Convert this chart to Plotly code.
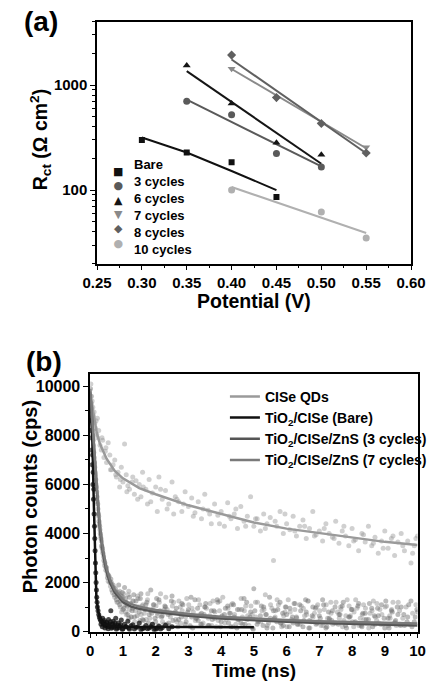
import plotly.graph_objects as go

# ---------------- Panel (a): Rct vs potential ----------------
pot_a = [0.30, 0.35, 0.40, 0.45]
pot_b = [0.35, 0.40, 0.45, 0.50]
pot_c = [0.40, 0.45, 0.50, 0.55]
pot_d = [0.40, 0.50, 0.55]

rct_bare = [299, 228, 184, 86]
rct_3 = [700, 520, 223, 166]
rct_6 = [1530, 667, 282, 217]
rct_7 = [1427, 741, 427, 255]
rct_8 = [1925, 760, 430, 225]
rct_10 = [100, 62, 35]

fit_bare_x = [0.30, 0.35, 0.40, 0.45]
fit_bare_y = [316, 228, 152, 100]
fit_3_x = [0.35, 0.50]
fit_3_y = [725, 168]
fit_6_x = [0.35, 0.50]
fit_6_y = [1356, 178]
fit_7_x = [0.40, 0.55]
fit_7_y = [1420, 250]
fit_8_x = [0.40, 0.55]
fit_8_y = [1750, 224]
fit_10_x = [0.40, 0.55]
fit_10_y = [107, 39]

legend_a_names = ["Bare", "3 cycles", "6 cycles", "7 cycles", "8 cycles", "10 cycles"]
legend_a_symbols = ["■", "●", "▲", "▼", "◆", "●"]

# ---------------- Panel (b): PL decay ----------------
qd_t = [0.02, 0.04, 0.06, 0.08, 0.1, 0.12, 0.14, 0.16, 0.18, 0.2, 0.23, 0.26, 0.3, 0.34, 0.38, 0.42, 0.46, 0.5,
        0.55, 0.6, 0.65, 0.7, 0.75, 0.8, 0.85, 0.9, 0.95, 1.0, 1.05, 1.1, 1.15, 1.2, 1.3, 1.35, 1.4, 1.5, 1.55,
        1.6, 1.7, 1.75, 1.8, 1.9, 2.0, 2.05, 2.1, 2.2, 2.3, 2.4, 2.5, 2.55, 2.6, 2.7, 2.8, 2.9, 3.0, 3.1, 3.2,
        3.3, 3.4, 3.5, 3.6, 3.7, 3.8, 3.9, 4.0, 4.1, 4.2, 4.3, 4.4, 4.5, 4.6, 4.7, 4.8, 4.9, 5.0, 5.1, 5.2, 5.3,
        5.4, 5.5, 5.6, 5.7, 5.8, 5.9, 6.0, 6.1, 6.2, 6.3, 6.4, 6.5, 6.6, 6.7, 6.8, 6.9, 7.0, 7.1, 7.2, 7.3, 7.4,
        7.5, 7.6, 7.7, 7.8, 7.9, 8.0, 8.1, 8.2, 8.3, 8.4, 8.5, 8.6, 8.7, 8.8, 8.9, 9.0, 9.1, 9.2, 9.3, 9.4, 9.5,
        9.6, 9.7, 9.8, 9.9, 10.0]
qd_y = [10100, 9600, 9400, 9150, 8800, 8950, 8500, 8300, 8600, 8050, 7900, 8200, 7600, 7400, 7800, 7100, 7350, 6900,
        7700, 7200, 6600, 6800, 7000, 6300, 6500, 5900, 6700, 6100, 7650, 6400, 5950, 5800, 6300, 5600, 6150, 6000, 5500,
        6500, 5800, 5200, 6200, 5650, 5900, 4900, 6300, 5400, 5750, 5200, 6100, 4800, 5500, 5300, 4900, 5700, 5100, 5450, 4850,
        5300, 4600, 5600, 4950, 4400, 5200, 4750, 4900, 4300, 5250, 4600, 4800, 4200, 5100, 4500, 4700, 5500, 4300, 4600, 4100, 4800,
        4400, 4650, 2900, 4300, 4900, 4000, 4400, 4150, 4700, 3900, 4300, 4550, 3800, 4200, 4900, 3950, 4100, 3700, 4400, 4000, 3850,
        4500, 3600, 4100, 3900, 3500, 4200, 3750, 3300, 4000, 3650, 4300, 3500, 3850, 3200, 3700, 4100, 3400, 3800, 3100, 3650, 4000,
        3300, 3700, 2800, 3500, 3900]
qd_t_more = [0.22, 0.36, 0.48, 0.62, 0.78, 0.92, 1.12, 1.28, 1.45, 1.62,
             1.85, 2.15, 2.35, 2.65, 2.85, 3.15, 3.45, 3.65, 3.95, 4.25,
             4.45, 4.75, 5.05, 5.35, 5.65, 5.95, 6.25, 6.55, 6.85, 7.15,
             7.45, 7.75, 8.05, 8.35, 8.65, 8.95, 9.25, 9.55, 9.85, 9.95]
qd_y_more = [8700, 7900, 7500, 6600, 6400, 6200, 5700, 6100, 5400, 5900,
             5300, 5800, 5000, 5400, 5200, 4700, 5000, 4800, 4400, 4700,
             5000, 4300, 4600, 4200, 4500, 4800, 4100, 4300, 3900, 4200,
             3800, 4300, 3700, 3950, 3600, 3400, 3900, 3500, 3200, 3800]

c3_t = [0.01, 0.03, 0.05, 0.07, 0.09, 0.11, 0.13, 0.15, 0.17, 0.19, 0.21, 0.23, 0.25, 0.27, 0.29, 0.31, 0.33, 0.35,
        0.37, 0.39, 0.42, 0.45, 0.48, 0.5, 0.53, 0.56, 0.6, 0.63, 0.66, 0.7, 0.73, 0.77, 0.8, 0.85, 0.9, 0.95, 1.0,
        1.05, 1.1, 1.15, 1.2, 1.3, 1.35, 1.4, 1.5, 1.55, 1.6, 1.7, 1.8, 1.85, 1.9, 2.0, 2.1, 2.2, 2.3, 2.4, 2.5,
        2.6, 2.7, 2.8, 2.9, 3.0, 3.1, 3.2, 3.3, 3.4, 3.5, 3.6, 3.7, 3.8, 3.9, 4.0, 4.1, 4.2, 4.3, 4.4, 4.5, 4.6,
        4.7, 4.8, 4.9, 5.0, 5.1, 5.2, 5.3, 5.4, 5.5, 5.6, 5.7, 5.8, 5.9, 6.0, 6.1, 6.2, 6.3, 6.4, 6.5, 6.6, 6.7,
        6.8, 6.9, 7.0, 7.1, 7.2, 7.3, 7.4, 7.5, 7.6, 7.7, 7.8, 7.9, 8.0, 8.1, 8.2, 8.3, 8.4, 8.5, 8.6, 8.7, 8.8,
        8.9, 9.0, 9.1, 9.2, 9.3, 9.4, 9.5, 9.6, 9.7, 9.8, 9.9, 10.0]
c3_y = [9900, 9300, 8700, 8200, 7800, 7300, 6900, 6500, 6200, 5900, 5500, 5200, 4800, 4500, 4300, 4000, 3800, 3500,
        3400, 3200, 2900, 2800, 2500, 2600, 2200, 2300, 2000, 2150, 1700, 1900, 1500, 1750, 1300, 1600, 1100, 1450, 900,
        1800, 1200, 700, 1400, 950, 600, 1250, 800, 1550, 500, 1100, 700, 1700, 900, 400, 1300, 650, 1000, 350, 1450,
        800, 500, 1150, 300, 900, 600, 1300, 450, 750, 1000, 250, 850, 550, 1200, 400, 700, 1050, 200, 600, 900, 350,
        1350, 500, 800, 1750, 300, 650, 1000, 150, 550, 850, 400, 1200, 250, 700, 950, 350, 600, 1100, 200, 800, 450,
        1000, 300, 650, 1300, 150, 550, 850, 350, 700, 1050, 250, 600, 900, 400, 1150, 200, 750, 500, 950, 300, 650,
        1100, 150, 550, 850, 350, 700, 1000, 250, 600, 1250, 400, 800]
c3_t_more = [0.82, 0.87, 0.93, 0.98, 1.03, 1.08, 1.13, 1.18, 1.23, 1.28,
             1.33, 1.43, 1.48, 1.53, 1.63, 1.68, 1.73, 1.78, 1.88, 1.93,
             1.98, 2.03, 2.08, 2.13, 2.18, 2.28, 2.33, 2.38, 2.48, 2.53,
             2.63, 2.68, 2.78, 2.83, 2.93, 2.98, 3.08, 3.13, 3.23, 3.28,
             3.38, 3.48, 3.53, 3.63, 3.73, 3.78, 3.88, 3.98, 4.03, 4.13,
             4.23, 4.28, 4.38, 4.48, 4.53, 4.63, 4.73, 4.78, 4.88, 4.98,
             5.03, 5.13, 5.23, 5.28, 5.38, 5.48, 5.58, 5.63, 5.73, 5.83,
             5.88, 5.98, 6.08, 6.18, 6.23, 6.33, 6.43, 6.53, 6.58, 6.68,
             6.78, 6.88, 6.93, 7.03, 7.13, 7.23, 7.28, 7.38, 7.48, 7.58,
             7.63, 7.73, 7.83, 7.93, 7.98, 8.08, 8.18, 8.28, 8.33, 8.43,
             8.53, 8.63, 8.68, 8.78, 8.88, 8.98, 9.03, 9.13, 9.23, 9.33,
             9.38, 9.48, 9.58, 9.68, 9.73, 9.83, 9.93, 9.98]
c3_y_more = [1450, 1900, 1250, 1600, 950, 1350, 1050, 550, 1150, 850,
             1500, 650, 1000, 1350, 450, 900, 1200, 350, 750, 1100,
             550, 1350, 250, 850, 600, 1050, 300, 700, 1250, 450,
             950, 200, 600, 1100, 400, 800, 1400, 150, 550, 950,
             300, 700, 1150, 250, 500, 850, 1300, 200, 650, 950,
             350, 750, 1100, 150, 500, 900, 300, 1200, 600, 100,
             850, 400, 1050, 250, 700, 1400, 150, 550, 900, 350,
             750, 1000, 200, 600, 1150, 300, 850, 450, 1300, 150,
             650, 950, 350, 550, 1100, 200, 800, 450, 1000, 300,
             700, 1200, 150, 600, 900, 350, 1050, 250, 750, 500,
             1150, 200, 650, 950, 300, 550, 1250, 150, 800, 450,
             1000, 250, 700, 400, 1100, 200, 600, 900]

c7_t = [0.02, 0.04, 0.06, 0.08, 0.1, 0.12, 0.14, 0.16, 0.18, 0.2, 0.22, 0.24, 0.26, 0.28, 0.3, 0.32, 0.34, 0.36,
        0.38, 0.41, 0.44, 0.47, 0.52, 0.55, 0.58, 0.62, 0.65, 0.68, 0.72, 0.75, 0.78, 0.82, 0.88, 0.92, 0.97, 1.02,
        1.08, 1.12, 1.18, 1.25, 1.32, 1.38, 1.45, 1.52, 1.58, 1.65, 1.75, 1.82, 1.95, 2.05, 2.15, 2.25, 2.35, 2.45,
        2.55, 2.65, 2.75, 2.85, 2.95, 3.05, 3.15, 3.25, 3.35, 3.45, 3.55, 3.65, 3.75, 3.85, 3.95, 4.05, 4.15, 4.25,
        4.35, 4.45, 4.55, 4.65, 4.75, 4.85, 4.95, 5.05, 5.15, 5.25, 5.35, 5.45, 5.55, 5.65, 5.75, 5.85, 5.95, 6.05,
        6.15, 6.25, 6.35, 6.45, 6.55, 6.65, 6.75, 6.85, 6.95, 7.05, 7.15, 7.25, 7.35, 7.45, 7.55, 7.65, 7.75, 7.85,
        7.95, 8.05, 8.15, 8.25, 8.35, 8.45, 8.55, 8.65, 8.75, 8.85, 8.95, 9.05, 9.15, 9.25, 9.35, 9.45, 9.55, 9.65,
        9.75, 9.85, 9.95]
c7_y = [9600, 9100, 8500, 8000, 7600, 7100, 6700, 6400, 6000, 5700, 5300, 5000, 4700, 4400, 4150, 3900, 3700, 3450,
        3300, 3050, 2700, 2650, 2350, 2050, 2250, 1850, 2000, 1600, 1800, 1400, 1650, 1200, 1500, 1000, 1350, 1550,
        800, 1100, 1650, 600, 1250, 850, 1450, 450, 1050, 750, 1300, 550, 1100, 750, 1550, 300, 900, 600,
        1200, 400, 1000, 700, 1350, 250, 800, 550, 1100, 350, 950, 650, 1250, 200, 850, 1400, 500, 750,
        1150, 300, 900, 600, 1050, 250, 700, 1200, 450, 850, 1500, 350, 950, 600, 1100, 200, 800, 1300,
        500, 900, 300, 1050, 650, 1250, 400, 750, 1100, 250, 900, 550, 1200, 350, 800, 1000, 450, 1300,
        650, 200, 950, 550, 1100, 350, 750, 1250, 450, 900, 300, 1050, 650, 1200, 250, 850, 550, 1000,
        300, 750, 1100]
c7_t_more = [0.85, 0.9, 0.96, 1.0, 1.06, 1.1, 1.16, 1.2, 1.26, 1.3,
             1.36, 1.41, 1.46, 1.56, 1.61, 1.71, 1.76, 1.86, 1.91, 2.01,
             2.06, 2.11, 2.21, 2.26, 2.31, 2.41, 2.46, 2.51, 2.61, 2.71,
             2.76, 2.81, 2.91, 3.01, 3.06, 3.11, 3.21, 3.31, 3.36, 3.41,
             3.51, 3.61, 3.66, 3.71, 3.81, 3.91, 3.96, 4.01, 4.11, 4.21,
             4.31, 4.36, 4.41, 4.51, 4.61, 4.66, 4.71, 4.81, 4.91, 4.96,
             5.06, 5.11, 5.21, 5.31, 5.36, 5.41, 5.51, 5.61, 5.66, 5.71,
             5.81, 5.91, 5.96, 6.01, 6.11, 6.21, 6.26, 6.31, 6.41, 6.51,
             6.61, 6.66, 6.71, 6.81, 6.91, 6.96, 7.01, 7.11, 7.21, 7.31,
             7.36, 7.41, 7.51, 7.61, 7.66, 7.71, 7.81, 7.91, 8.01, 8.06,
             8.11, 8.21, 8.31, 8.36, 8.41, 8.51, 8.61, 8.71, 8.76, 8.81,
             8.91, 9.01, 9.11, 9.16, 9.21, 9.31, 9.41, 9.46]
c7_y_more = [1200, 1650, 800, 1400, 1100, 700, 1500, 900, 600, 1250,
             400, 1000, 1350, 700, 1100, 500, 1550, 850, 300, 1050,
             650, 1200, 400, 900, 1400, 250, 750, 1050, 500, 1250,
             350, 850, 600, 1100, 200, 950, 450, 1300, 700, 300,
             1000, 550, 1150, 250, 800, 450, 1250, 600, 350, 950,
             1100, 200, 700, 500, 1350, 300, 850, 650, 1050, 150,
             600, 1200, 400, 900, 700, 250, 1100, 500, 850, 1300,
             350, 650, 1000, 200, 800, 450, 1150, 550, 300, 950,
             700, 1250, 150, 600, 1000, 400, 850, 250, 1100, 500,
             750, 300, 1200, 550, 900, 200, 650, 1050, 400, 800,
             1300, 250, 700, 500, 950, 150, 850, 600, 1150, 350,
             700, 1000, 250, 550, 900, 400, 1200, 300]

bare_t = [0.01, 0.02, 0.03, 0.04, 0.05, 0.06, 0.07, 0.08, 0.09, 0.1, 0.11, 0.12, 0.13, 0.14, 0.15, 0.16, 0.17, 0.18,
          0.19, 0.2, 0.21, 0.22, 0.24, 0.26, 0.28, 0.3, 0.32, 0.35, 0.38, 0.4, 0.43, 0.46, 0.5, 0.53, 0.56, 0.6, 0.63,
          0.66, 0.7, 0.74, 0.78, 0.82, 0.86, 0.9, 0.95, 1.0, 1.05, 1.1, 1.15, 1.2, 1.3, 1.4, 1.5, 1.6, 1.7, 1.8, 1.9,
          2.0, 2.1, 2.2, 2.3, 2.4, 2.5]
bare_y = [9000, 8200, 8600, 7400, 7900, 6800, 7200, 6000, 6500, 5400, 5800, 4800, 4300, 3800, 3300, 2800, 2400, 2000,
          1700, 1400, 1200, 1000, 850, 700, 600, 520, 450, 400, 550, 300, 450, 250, 380, 200, 500, 300, 850,
          180, 420, 260, 550, 150, 350, 220, 480, 120, 300, 200, 420, 100, 280, 180, 350, 120, 250, 150, 300,
          100, 220, 160, 260, 120, 200]
bare_t_more = [0.33, 0.37, 0.42, 0.45, 0.48, 0.52, 0.55, 0.58, 0.62, 0.65,
               0.68, 0.72, 0.76, 0.8, 0.84, 0.88, 0.93, 0.98, 1.08, 1.18,
               1.25, 1.35, 1.45, 1.55, 1.65, 1.75, 1.85, 1.95, 2.05, 2.15]
bare_y_more = [300, 200, 380, 150, 260, 320, 120, 220, 400, 140,
               300, 180, 350, 100, 250, 160, 280, 90, 200, 150,
               240, 110, 190, 80, 160, 120, 200, 90, 140, 110]

fitqd_t = [0, 0.05, 0.1, 0.2, 0.3, 0.5, 0.75, 1, 1.5, 2, 3, 4, 5, 6, 7, 8, 9, 10]
fitqd_y = [9700, 9300, 8900, 8100, 7650, 7050, 6550, 6250, 5850, 5600, 5150, 4800, 4450, 4200, 4030, 3830, 3660, 3530]

fitbare_t = [0, 0.03, 0.066, 0.113, 0.16, 0.19, 0.25, 0.3, 0.4, 0.6, 1, 2, 3, 5]
fitbare_y = [9300, 8500, 7800, 5100, 2400, 1350, 800, 540, 330, 230, 200, 190, 185, 180]

fit3_t = [0, 0.05, 0.1, 0.15, 0.2, 0.3, 0.4, 0.5, 0.6, 0.75, 1, 1.25, 1.5, 2, 3, 4, 5, 6, 7, 8, 9, 10]
fit3_y = [9800, 8800, 7600, 6600, 5800, 4100, 3100, 2450, 2000, 1600, 1200, 1020, 930, 800, 650, 540, 460, 400, 350, 310, 280, 250]

fit7_t = [0, 0.05, 0.1, 0.15, 0.2, 0.3, 0.4, 0.5, 0.6, 0.75, 1, 1.25, 1.5, 2, 3, 4, 5, 6, 7, 8, 9, 10]
fit7_y = [9900, 8900, 7800, 6800, 6000, 4300, 3300, 2600, 2150, 1700, 1300, 1120, 1020, 880, 720, 610, 530, 470, 420, 380, 350, 330]

FONT = "Liberation Sans, Arial, sans-serif"
W, H = 440, 689

fig = go.Figure()

# ----- panel (a) traces -----
a_series = [
    (pot_a, rct_bare, fit_bare_x, fit_bare_y, "square", "#111111", 6),
    (pot_b, rct_3, fit_3_x, fit_3_y, "circle", "#5a5a5a", 7),
    (pot_b, rct_6, fit_6_x, fit_6_y, "triangle-up", "#151515", 7),
    (pot_c, rct_7, fit_7_x, fit_7_y, "triangle-down", "#8a8a8a", 7),
    (pot_c, rct_8, fit_8_x, fit_8_y, "diamond", "#606060", 7),
    (pot_d, rct_10, fit_10_x, fit_10_y, "circle", "#b0b0b0", 7),
]
for xs, ys, fx, fy, sym, col, sz in a_series:
    fig.add_trace(go.Scatter(x=fx, y=fy, mode="lines", line=dict(color=col, width=2),
                             xaxis="x", yaxis="y", showlegend=False, hoverinfo="skip"))
for (xs, ys, fx, fy, sym, col, sz), name in zip(a_series, legend_a_names):
    fig.add_trace(go.Scatter(x=xs, y=ys, mode="markers", name=name,
                             marker=dict(symbol=sym, color=col, size=sz),
                             xaxis="x", yaxis="y", showlegend=False))

# ----- panel (b) traces -----
clouds = [
    (qd_t + qd_t_more, qd_y + qd_y_more, "rgba(150,150,150,0.45)"),
    (c7_t + c7_t_more, c7_y + c7_y_more, "rgba(140,140,140,0.45)"),
    (c3_t + c3_t_more, c3_y + c3_y_more, "rgba(105,105,105,0.45)"),
    (bare_t + bare_t_more, bare_y + bare_y_more, "rgba(15,15,15,0.75)"),
]
for tx, ty, col in clouds:
    fig.add_trace(go.Scatter(x=tx, y=ty, mode="markers", marker=dict(size=5, color=col),
                             xaxis="x2", yaxis="y2", showlegend=False, hoverinfo="skip"))

b_lines = [
    ("CISe QDs", fitqd_t, fitqd_y, "#9a9a9a"),
    ("TiO<sub>2</sub>/CISe (Bare)", fitbare_t, fitbare_y, "#111111"),
    ("TiO<sub>2</sub>/CISe/ZnS (3 cycles)", fit3_t, fit3_y, "#555555"),
    ("TiO<sub>2</sub>/CISe/ZnS (7 cycles)", fit7_t, fit7_y, "#7a7a7a"),
]
for name, tx, ty, col in b_lines:
    fig.add_trace(go.Scatter(x=tx, y=ty, mode="lines", name=name, line=dict(color=col, width=2.5),
                             xaxis="x2", yaxis="y2", legend="legend2"))


def axis_common(size):
    return dict(showline=True, linecolor="black", linewidth=1.5, mirror=True, showgrid=False,
                zeroline=False, ticks="outside", tickcolor="black", ticklen=5, tickwidth=1.3,
                tickfont=dict(family=FONT, size=size, color="black", weight="bold"))


minor_log = [20, 30, 40, 50, 60, 70, 80, 90, 200, 300, 400, 500, 600, 700, 800, 900, 2000, 3000, 4000]

fig.update_layout(
    width=W, height=H, margin=dict(l=0, r=0, t=0, b=0),
    paper_bgcolor="white", plot_bgcolor="white",
    font=dict(family=FONT, color="black"),
    xaxis=dict(domain=[0.2, 0.966], anchor="y", range=[0.25, 0.60], dtick=0.05, tick0=0.25,
               tickformat=".2f", minor=dict(dtick=0.025, ticks="outside", ticklen=3, tickcolor="black"),
               **axis_common(15)),
    yaxis=dict(domain=[0.6125, 0.968], anchor="x", type="log", range=[1.301, 3.602],
               tickmode="array", tickvals=[100, 1000], ticktext=["100", "1000"],
               minor=dict(tickmode="array", tickvals=minor_log, ticks="outside", ticklen=3, tickcolor="black"),
               **axis_common(15)),
    xaxis2=dict(domain=[0.1834, 0.9818], anchor="y2", range=[0, 10], dtick=1,
                minor=dict(dtick=0.2, ticks="outside", ticklen=3, tickcolor="black"),
                **axis_common(15)),
    yaxis2=dict(domain=[0.0711, 0.4499], anchor="x2", range=[0, 10500], dtick=2000, tickformat="d",
                minor=dict(dtick=1000, ticks="outside", ticklen=3, tickcolor="black"),
                **axis_common(16)),
    legend2=dict(x=0.512, y=0.44, xanchor="left", yanchor="top", bgcolor="rgba(0,0,0,0)",
                 font=dict(family=FONT, size=14, color="black", weight="bold"),
                 tracegroupgap=0, itemwidth=30),
)


def ann(text, px, py, size, angle=0, xanchor="center", align="center", family=FONT):
    return dict(text=text, x=px / W, y=1 - py / H, xref="paper", yref="paper", showarrow=False,
                xanchor=xanchor, yanchor="middle", textangle=angle, align=align,
                font=dict(family=family, size=size, color="black", weight="bold"))


a_colors = [s[5] for s in a_series]
sym_text = "<br>".join(f"<span style='color:{c}'>{s}</span>" for s, c in zip(legend_a_symbols, a_colors))
name_text = "<br>".join(legend_a_names)

fig.layout.annotations = [
    ann("(a)", 28, 22, 28),
    ann("(b)", 31, 366, 28),
    ann("Potential (V)", 257, 305, 19.5),
    ann("R<sub>ct</sub> (Ω cm<sup>2</sup>)", 27, 142, 19.5, -90),
    ann("Photon counts (cps)", 17, 503, 20, -90),
    ann("Time (ns)", 257, 679, 19),
    ann(sym_text, 110, 210, 11, family="DejaVu Sans"),
    ann(name_text, 126, 210, 13, xanchor="left", align="left"),
]

fig.write_html("out.html")
